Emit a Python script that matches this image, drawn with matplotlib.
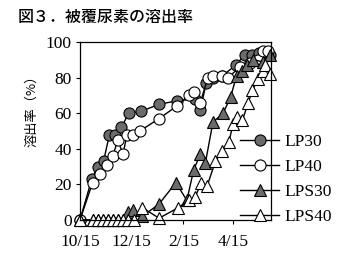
import matplotlib
matplotlib.use('Agg')
import matplotlib.pyplot as plt

# days after 10/15
lp30_days = [0, 14, 21, 28, 35, 42, 49, 58, 72, 94, 115, 137, 143, 150, 158, 169, 185, 196, 204, 213, 221, 226]
lp30_vals = [0, 23, 30, 33, 48, 48, 52, 60, 61, 65, 67, 68, 62, 77, 80, 81, 87, 93, 93, 94, 94, 93]

lp40_days = [0, 15, 24, 32, 39, 45, 51, 56, 63, 71, 94, 115, 129, 135, 143, 152, 158, 169, 176, 190, 202, 211, 218, 224]
lp40_vals = [0, 21, 26, 31, 36, 45, 37, 48, 48, 50, 57, 64, 70, 72, 66, 80, 81, 81, 80, 86, 88, 90, 95, 95]

lps30_days = [0, 15, 21, 27, 33, 39, 45, 51, 57, 63, 74, 94, 114, 127, 135, 143, 149, 158, 170, 179, 186, 193, 199, 206, 217, 226]
lps30_vals = [0, 0, 0, 0, 0, 0, 0, 0, 4.5, 5.5, 2, 9, 21, 11, 28, 37, 32, 55, 60, 69, 81, 84, 87, 90, 89, 93]

lps40_days = [0, 15, 21, 27, 33, 39, 45, 51, 57, 64, 74, 94, 117, 129, 137, 144, 151, 161, 169, 177, 182, 187, 193, 200, 205, 211, 217, 220, 226]
lps40_vals = [0, 0, 0, 0, 0, 0, 0, 0, 0, 0, 7, 1, 7, 11, 13, 21, 19, 33, 39, 44, 54, 58, 56, 66, 73, 79, 84, 87, 82]

tick_days = [0, 61, 123, 182]
tick_labels = ['10/15', '12/15', '2/15', '4/15']

serif = 'Liberation Serif'
gray = '#6b6b6b'
jp = ['Noto Sans CJK JP', 'DejaVu Sans']

fig = plt.figure(figsize=(3.47, 2.63), dpi=100)
ax = fig.add_axes([0.2305, 0.1635, 0.5505, 0.6765])

kw = dict(color='black', lw=1.0, markeredgecolor='black', markeredgewidth=0.8, clip_on=False)
ax.plot(lp30_days, lp30_vals, marker='o', markersize=8, markerfacecolor=gray, label='LP30', **kw)
ax.plot(lp40_days, lp40_vals, marker='o', markersize=8, markerfacecolor='white', label='LP40', **kw)
ax.plot(lps30_days, lps30_vals, marker='^', markersize=8.5, markerfacecolor=gray, label='LPS30', **kw)
ax.plot(lps40_days, lps40_vals, marker='^', markersize=8.5, markerfacecolor='white', label='LPS40', **kw)

ax.set_xlim(0, 227)
ax.set_ylim(0, 100)
ax.set_xticks(tick_days)
ax.set_xticklabels(tick_labels)
ax.set_yticks([0, 20, 40, 60, 80, 100])
ax.tick_params(direction='out', length=3, width=0.8, labelsize=12.5, pad=3)
ax.tick_params(axis='x', pad=7)
for lab in ax.get_xticklabels() + ax.get_yticklabels():
    lab.set_fontfamily(serif)
for s in ax.spines.values():
    s.set_linewidth(0.9)

ax.set_ylabel('溶出率（%）', family=jp, fontsize=9.5)
ax.yaxis.set_label_coords(-0.22, 0.63)

leg = fig.legend(loc='upper left', bbox_to_anchor=(0.692, 0.49), frameon=False,
                 handlelength=2.25, handletextpad=0.33, labelspacing=0.5,
                 borderaxespad=0, borderpad=0,
                 prop={'family': serif, 'size': 12.5})

fig.text(0.05, 0.935, '図３．被覆尿素の溶出率', family=jp,
         fontsize=11.5, fontweight='medium', va='center', ha='left')

fig.savefig('out.png', dpi=100)
